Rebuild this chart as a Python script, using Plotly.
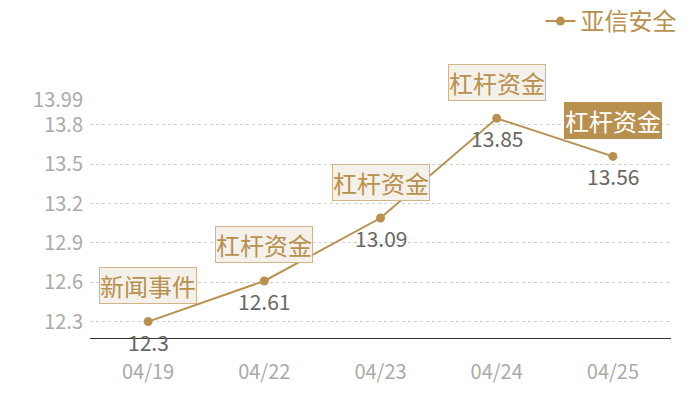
import plotly.graph_objects as go

dates = ['04/19', '04/22', '04/23', '04/24', '04/25']
prices = [12.3, 12.61, 13.09, 13.85, 13.56]
events = ['新闻事件', '杠杆资金', '杠杆资金', '杠杆资金', '杠杆资金']
highlight = [False, False, False, False, True]
ytick_vals = [12.3, 12.6, 12.9, 13.2, 13.5, 13.8, 13.99]

gold = '#b8914f'
font_family = 'Noto Sans CJK SC'

fig = go.Figure()
fig.add_trace(go.Scatter(
    x=dates, y=prices, name='亚信安全',
    mode='lines+markers',
    line=dict(color=gold, width=2),
    marker=dict(color=gold, size=9),
    cliponaxis=False,
))

# value labels under the points
for d, p in zip(dates, prices):
    fig.add_annotation(
        x=d, y=p, text=str(p), showarrow=False, yshift=-20,
        font=dict(size=21, color='#666666', family=font_family),
    )

# event tags above the points
for d, p, ev, hl in zip(dates, prices, events, highlight):
    fig.add_annotation(
        x=d, y=p, text=ev, showarrow=False, yshift=36,
        font=dict(size=24, color='white' if hl else gold, family=font_family),
        bgcolor=gold if hl else '#f4f0ea',
        bordercolor=gold if hl else '#d2b48a',
        borderwidth=1, borderpad=0,
    )

# page body adds 8px offset, so figure is 8px smaller and shifted
fig.update_layout(
    width=692, height=392,
    margin=dict(l=82, r=29, t=92, b=62, autoexpand=False),
    paper_bgcolor='white', plot_bgcolor='white',
    font=dict(family=font_family),
    showlegend=True,
    legend=dict(
        x=1.018, xanchor='right', y=1.33, yanchor='middle',
        font=dict(size=24, color=gold, family=font_family),
        itemwidth=30,
    ),
    xaxis=dict(
        type='category', range=[-0.5, 4.5],
        showline=True, linecolor='#333333', linewidth=1,
        showgrid=False, zeroline=False,
        ticks='outside', ticklen=16, tickcolor='rgba(0,0,0,0)',
        tickfont=dict(size=20, color='#aaaaaa'),
    ),
    yaxis=dict(
        range=[12.175, 13.99],
        tickvals=ytick_vals,
        ticktext=[str(v) for v in ytick_vals],
        showgrid=True, gridcolor='#d0d0d0', griddash='3px,3px', gridwidth=1,
        zeroline=False, showline=False,
        ticklabelstandoff=6,
        tickfont=dict(size=20, color='#aaaaaa'),
    ),
)

fig.write_html("out.html")
